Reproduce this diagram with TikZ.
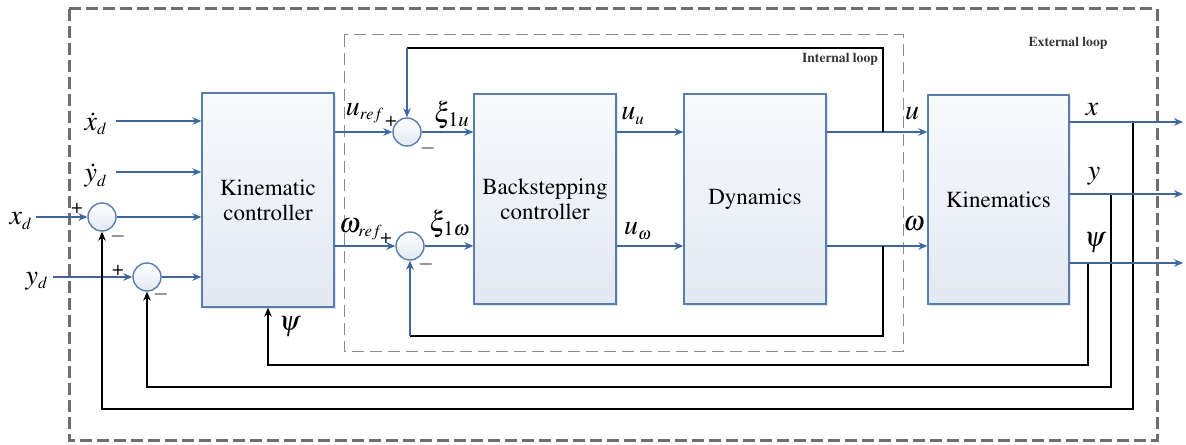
\documentclass[tikz,border=0pt]{standalone}
\usepackage[T1]{fontenc}
\usepackage{mathptmx}
\usetikzlibrary{arrows.meta,shadows}
\definecolor{sigblue}{HTML}{3F679C}
\definecolor{boxblue}{HTML}{5A7DB0}
\definecolor{boxtop}{HTML}{F8FAFD}
\definecolor{boxbot}{HTML}{E2E8F2}
\definecolor{outergray}{HTML}{6E6E6E}
\definecolor{innergray}{HTML}{8C8C8C}
\begin{document}
\begin{tikzpicture}[x=0.5pt,y=-0.5pt,
  blk/.style={draw=boxblue, line width=0.7pt, top color=boxtop, bottom color=boxbot,
    inner sep=0pt, align=center, font=\fontsize{11.5}{12.5}\selectfont,
    drop shadow={shadow xshift=0.8pt, shadow yshift=-0.8pt, opacity=0.2}},
  sum/.style={circle, draw=boxblue, line width=0.7pt, top color=white, bottom color=boxbot,
    minimum size=14pt, inner sep=0pt},
  sigl/.style={draw=sigblue, line width=0.6pt},
  sig/.style={sigl, -{Stealth[length=4.5pt,width=3.8pt]}},
  fb/.style={draw=black, line width=0.6pt},
  fba/.style={fb, -{Stealth[length=4.5pt,width=3.8pt]}},
  lbl/.style={font=\fontsize{14}{16}\selectfont, inner sep=0pt},
  pm/.style={font=\fontsize{10}{10}\selectfont, inner sep=0pt},
  looplbl/.style={font=\fontsize{6.8}{8}\selectfont\bfseries, text=black!80, inner sep=0pt}
]
\useasboundingbox (0,0) rectangle (1186,444);

% loop frames
\draw[outergray, line width=1.5pt, dash pattern=on 6pt off 2.5pt] (69,9) rectangle (1157,440);
\draw[innergray, line width=0.5pt, dash pattern=on 6pt off 3pt] (344,35) rectangle (903,351);
\node[looplbl] (extl) at (1068,43) {External loop};
\node[looplbl] (intl) at (840,59) {Internal loop};

% blocks
\node[blk, minimum width=66pt, minimum height=107pt] (kc) at (268,200) {Kinematic\\controller};
\node[blk, minimum width=71pt, minimum height=105pt] (bs) at (545,199) {Backstepping\\controller};
\node[blk, minimum width=71pt, minimum height=105pt] (dyn) at (755,199) {Dynamics};
\node[blk, minimum width=70.5pt, minimum height=104.5pt] (kin) at (998.5,199.5) {Kinematics};

% summing junctions
\node[sum] (sx) at (102,217) {};
\node[sum] (sy) at (147,277) {};
\node[sum] (su) at (407,132) {};
\node[sum] (sw) at (410,246) {};

% coordinates
\coordinate (xddin) at (116,121);
\coordinate (yddin) at (116,172);
\coordinate (xdin) at (36,217);
\coordinate (ydin) at (53,277);
\coordinate (fx) at (883,0);
\coordinate (ftop) at (0,48);
\coordinate (fbot) at (0,336);
\coordinate (ox) at (1183,122);
\coordinate (oy) at (1183,194);
\coordinate (opsi) at (1183,263);
\coordinate (bx) at (1133,122);
\coordinate (by) at (1111,194);
\coordinate (bpsi) at (1088,263);
\coordinate (lx) at (0,409);
\coordinate (ly) at (0,387);
\coordinate (lpsi) at (0,365);

% forward signals
\draw[sig] (xddin) -- (xddin -| kc.west);
\draw[sig] (yddin) -- (yddin -| kc.west);
\draw[sig] (xdin) -- (sx.west);
\draw[sig] (sx.east) -- (sx -| kc.west);
\draw[sig] (ydin) -- (sy.west);
\draw[sig] (sy.east) -- (sy -| kc.west);
\draw[sig] (su -| kc.east) -- (su.west);
\draw[sig] (su.east) -- (su -| bs.west);
\draw[sig] (sw -| kc.east) -- (sw.west);
\draw[sig] (sw.east) -- (sw -| bs.west);
\draw[sig] (su -| bs.east) -- (su -| dyn.west);
\draw[sig] (sw -| bs.east) -- (sw -| dyn.west);
\draw[sig] (su -| dyn.east) -- (su -| kin.west);
\draw[sig] (sw -| dyn.east) -- (sw -| kin.west);

% internal loop feedback
\draw[fb] (fx |- su) -- (fx |- ftop) -- (su |- ftop);
\draw[sig] (su |- ftop) -- (su.north);
\draw[fb] (fx |- sw) -- (fx |- fbot) -- (sw |- fbot);
\draw[sig] (sw |- fbot) -- (sw.south);

% external loop feedback
\draw[fba] (bpsi) |- (kc.south |- lpsi) -- (kc.south);
\draw[fba] (by) |- (sy.south |- ly) -- (sy.south);
\draw[fba] (bx) |- (sx.south |- lx) -- (sx.south);

% outputs
\draw[sig] (kin.east |- ox) -- (ox);
\draw[sig] (kin.east |- oy) -- (oy);
\draw[sig] (kin.east |- opsi) -- (opsi);

% labels
\node[lbl] (lxdd) at (96,124) {$\dot{x}_{\scriptscriptstyle d}$};
\node[lbl] (lydd) at (96,176) {$\dot{y}_{\scriptscriptstyle d}$};
\node[lbl] (lxd) at (21,221) {$x_{\scriptscriptstyle d}$};
\node[lbl] (lyd) at (37,281) {$y_{\scriptscriptstyle d}$};
\node[lbl] (luref) at (365,113) {$u_{\scriptscriptstyle ref}$};
\node[lbl] (lwref) at (361,229) {$\omega_{\scriptscriptstyle ref}$};
\node[lbl] (lxiu) at (452,115) {$\xi_{1u}$};
\node[lbl] (lxiw) at (450,224) {$\xi_{1\omega}$};
\node[lbl] (luu) at (633,116) {$u_{\scriptscriptstyle u}$};
\node[lbl] (luw) at (638,231) {$u_{\scriptscriptstyle \omega}$};
\node[lbl] (lu) at (912,114) {$u$};
\node[lbl] (lw) at (914,224) {$\omega$};
\node[lbl] (lox) at (1092,110) {$x$};
\node[lbl] (loy) at (1094,176) {$y$};
\node[lbl] (lopsi) at (1095,243) {$\psi$};
\node[lbl] (lpsik) at (290,327) {$\psi$};

% signs
\node[pm] (p1) at (77,208) {+};
\node[pm] (m1) at (118,236) {$-$};
\node[pm] (p2) at (118,270) {+};
\node[pm] (m2) at (161,294) {$-$};
\node[pm] (p3) at (391,121) {+};
\node[pm] (m3) at (428,148) {$-$};
\node[pm] (p4) at (386,238) {+};
\node[pm] (m4) at (426,264) {$-$};
\end{tikzpicture}
\end{document}
